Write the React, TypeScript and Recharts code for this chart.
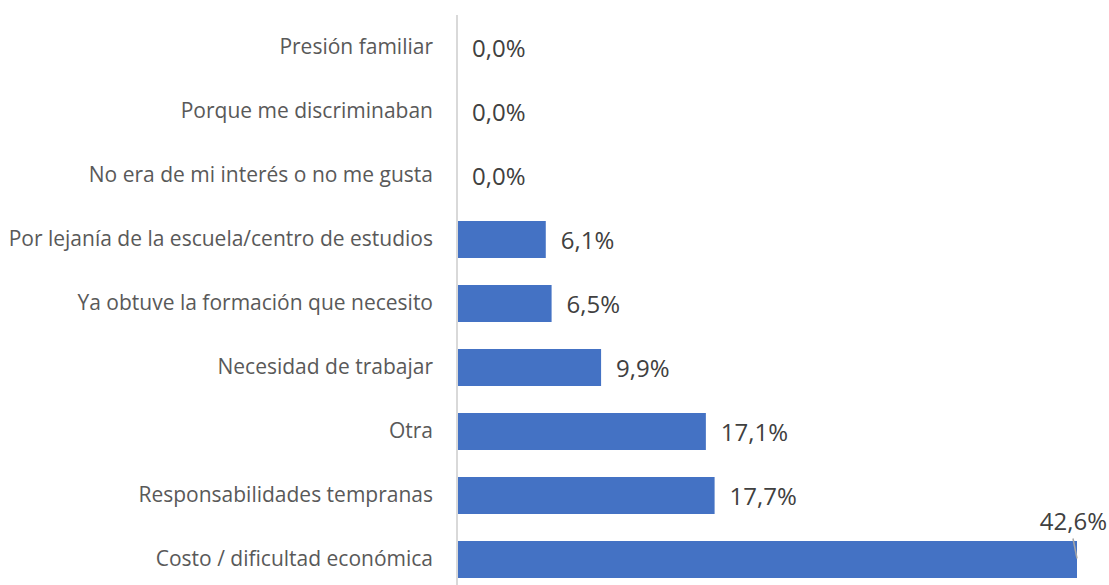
import React from "react";
import { BarChart, Bar, XAxis, YAxis, LabelList } from "recharts";

const categories = [
  "Presión familiar",
  "Porque me discriminaban",
  "No era de mi interés o no me gusta",
  "Por lejanía de la escuela/centro de estudios",
  "Ya obtuve la formación que necesito",
  "Necesidad de trabajar",
  "Otra",
  "Responsabilidades tempranas",
  "Costo / dificultad económica",
];
const values = [0.0, 0.0, 0.0, 6.1, 6.5, 9.9, 17.1, 17.7, 42.6];

const data = categories.map((name, i) => ({ name, value: values[i] }));
const maxValue = Math.max(...values);

const FONT = "'Open Sans', sans-serif";
const fmt = (v: number) => v.toFixed(1).replace(".", ",") + "%";

const ValueLabel = (props: any) => {
  const { x, y, width, height, value } = props;
  const endX = Number(x) + Number(width);
  const cy = Number(y) + Number(height) / 2;
  if (value === maxValue) {
    return (
      <g>
        <line x1={endX - 4} y1={cy - 21} x2={endX} y2={cy - 1} stroke="#a6a6a6" strokeWidth={1.5} />
        <text x={endX + 30} y={cy - 39} textAnchor="end" dominantBaseline="central" fill="#404040" fontSize={24} fontFamily={FONT}>
          {fmt(value)}
        </text>
      </g>
    );
  }
  return (
    <text x={endX + 15} y={cy} textAnchor="start" dominantBaseline="central" fill="#404040" fontSize={24} fontFamily={FONT}>
      {fmt(value)}
    </text>
  );
};

export default function App() {
  return (
    <div style={{ position: "absolute", left: 0, top: 0, background: "#fff" }}>
      <BarChart
        width={1109}
        height={600}
        data={data}
        layout="vertical"
        margin={{ top: 15, right: 32, left: 0, bottom: 9 }}
        barSize={37}
      >
        <XAxis type="number" hide domain={[0, 42.6]} />
        <YAxis
          type="category"
          dataKey="name"
          width={457}
          tickLine={false}
          tickSize={6}
          tickMargin={18}
          axisLine={{ stroke: "#d9d9d9", strokeWidth: 2 }}
          tick={{ fill: "#595959", fontSize: 21, fontFamily: FONT }}
          interval={0}
        />
        <Bar dataKey="value" fill="#4472C4" isAnimationActive={false} minPointSize={0.01}>
          <LabelList dataKey="value" content={ValueLabel} />
        </Bar>
      </BarChart>
    </div>
  );
}
